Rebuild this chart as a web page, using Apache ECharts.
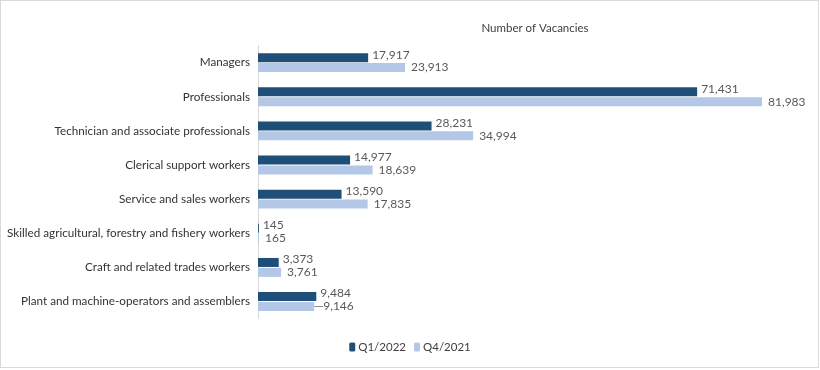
<!DOCTYPE html>
<html><head><meta charset="utf-8">
<script src="https://cdn.jsdelivr.net/npm/echarts@6/dist/echarts.min.js"></script>
<style>
html,body{margin:0;padding:0;background:#fff;}
#frame{position:absolute;left:0;top:0;width:817px;height:366px;border:1px solid #d9d9d9;background:#fff;}
#c{position:absolute;left:0;top:0;width:820px;height:370px;}
</style></head>
<body><div id="frame"></div><div id="c"></div>
<script>
const categories = [
  "Managers",
  "Professionals",
  "Technician and associate professionals",
  "Clerical support workers",
  "Service and sales workers",
  "Skilled agricultural, forestry and fishery workers",
  "Craft and related trades workers",
  "Plant and machine-operators and assemblers"
];
const q1_2022 = [17917, 71431, 28231, 14977, 13590, 145, 3373, 9484];
const q4_2021 = [23913, 81983, 34994, 18639, 17835, 165, 3761, 9146];
const seriesNames = ["Q1/2022", "Q4/2021"];
const titleText = "Number of Vacancies";

const FONT = 'Lato, sans-serif';
const fmt = v => v.value.toLocaleString('en-US');
const LEADER_INDEX = 7; // label drawn with a short leader line in the original
const q4Data = q4_2021.map((v, i) => i === LEADER_INDEX
  ? { value: v, labelLine: { show: true, lineStyle: { color: '#8c8c8c', width: 1 } } }
  : v);
const chart = echarts.init(document.getElementById('c'));
chart.setOption({
  animation: false,
  title: { text: titleText, left: 530, top: 17, textAlign: 'center',
    textStyle: { fontFamily: FONT, fontSize: 11.5, fontWeight: 'normal', color: '#404040' } },
  legend: { bottom: 12, left: 'center', itemWidth: 6, itemHeight: 9, itemGap: 8,
    textStyle: { fontFamily: FONT, fontSize: 11.5, color: '#404040', padding: [0,0,0,-2] },
    data: seriesNames },
  grid: { left: 258, top: 45.6, width: 553.3, height: 273, outerBoundsMode: 'none' },
  xAxis: { type: 'value', min: 0, max: 90000, show: false },
  yAxis: { type: 'category', data: categories, inverse: true,
    axisLine: { show: true, lineStyle: { color: '#d9d9d9', width: 1 } },
    axisTick: { show: false },
    axisLabel: { fontFamily: FONT, fontSize: 11.7, color: '#333333', margin: 8 } },
  series: [
    { name: seriesNames[0], type: 'bar', data: q1_2022, barWidth: 9, barGap: '10%',
      itemStyle: { color: '#1f4e79' },
      label: { show: true, position: 'right', distance: 4, offset: [0, -3], formatter: fmt,
        fontFamily: FONT, fontSize: 12, color: '#595959' } },
    { name: seriesNames[1], type: 'bar', data: q4Data, barWidth: 9,
      itemStyle: { color: '#b4c7e7' },
      label: { show: true, position: 'right', distance: 6, formatter: fmt,
        fontFamily: FONT, fontSize: 12, color: '#595959' },
      labelLine: { show: false },
      labelLayout: p => (p.dataIndex === LEADER_INDEX ? { dx: 3 } : {}) }
  ]
});
</script></body></html>
